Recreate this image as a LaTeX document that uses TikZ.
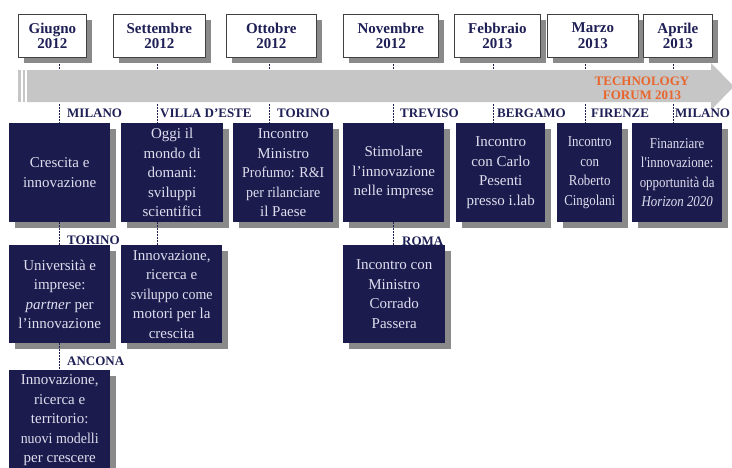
\documentclass[tikz,border=0pt]{standalone}
\usepackage{fontspec}
\setmainfont{Liberation Serif}
\newfontfamily\condfont[FakeStretch=0.86]{Liberation Serif}
\newfontfamily\semicond[FakeStretch=0.93]{Liberation Serif}
\usetikzlibrary{shadows}
\definecolor{navy}{HTML}{1C1B4E}
\definecolor{navytext}{HTML}{1E1F55}
\definecolor{boxtext}{HTML}{DEDEEE}
\definecolor{shadowgray}{HTML}{8A8A8A}
\definecolor{arrowgray}{HTML}{C6C6C6}
\definecolor{forumorange}{HTML}{E8662E}
\begin{document}
\begin{tikzpicture}[x=1pt,y=-1pt,
  myshadow/.style={drop shadow={shadow xshift=6pt, shadow yshift=-6pt, fill=shadowgray, opacity=1}},
  hdr/.style={draw=black!75, line width=0.7pt, fill=white, myshadow, anchor=north west,
    inner sep=0pt, align=center, text=navytext, minimum height=43pt,
    font=\bfseries\fontsize{15}{15.5}\selectfont},
  dbox/.style={fill=navy, myshadow, anchor=north west, inner sep=0pt, align=center,
    text=boxtext, font=\fontsize{15}{19.5}\selectfont},
  cbox/.style={dbox, font=\condfont\fontsize{15}{19.5}\selectfont},
  loc/.style={anchor=west, inner sep=0pt, text=navytext, font=\bfseries\fontsize{13}{13}\selectfont},
  dotline/.style={draw=navytext, line width=1pt, dash pattern=on 1.5pt off 1.5pt}]
\useasboundingbox (0,0) rectangle (732,467);
\fill[white] (0,0) rectangle (732,467);
% timeline arrow
\fill[arrowgray] (27,70) -- (711,70) -- (711,63) -- (734,86.5) -- (711,110) -- (711,102) -- (27,102) -- cycle;
\fill[arrowgray] (18,70) rectangle (20.5,102);
\fill[arrowgray] (22.5,70) rectangle (25,102);
\node[font=\bfseries\fontsize{13}{14}\selectfont, text=forumorange, align=center, inner sep=0pt] (tf) at (642,88) {TECHNOLOGY\\FORUM 2013};
% headers
\node[hdr, minimum width=68pt] (h1) at (18,14) {Giugno\\2012};
\node[hdr, minimum width=92pt] (h2) at (113,14) {Settembre\\2012};
\node[hdr, minimum width=90pt] (h3) at (226,14) {Ottobre\\2012};
\node[hdr, minimum width=95pt] (h4) at (343,14) {Novembre\\2012};
\node[hdr, minimum width=86pt] (h5) at (454,14) {Febbraio\\2013};
\node[hdr, minimum width=91pt] (h6) at (547,14) {Marzo\\2013};
\node[hdr, minimum width=69pt] (h7) at (643,14) {Aprile\\2013};
% ticks between headers and arrow
\foreach \i/\x in {1/59,2/157,3/269,4/393,5/493,6/585,7/673}{
  \coordinate (t\i) at (\x,64);
  \coordinate (a\i) at (\x,104);
  \draw[dotline] (t\i) -- ++(0,6);
}
% location labels row 1
\node[loc] (l1) at (67,113) {MILANO};
\node[loc] (l2) at (160,113) {VILLA D'ESTE};
\node[loc] (l3) at (277,113) {TORINO};
\node[loc] (l4) at (400,113) {TREVISO};
\node[loc] (l5) at (497,113) {BERGAMO};
\node[loc] (l6) at (591,113) {FIRENZE};
\node[loc] (l7) at (675,113) {MILANO};
% row 1 boxes
\node[dbox, minimum width=101pt, minimum height=99pt] (b1) at (9,123) {Crescita e\\innovazione};
\node[dbox, minimum width=102pt, minimum height=99pt] (b2) at (121,123) {Oggi il\\mondo di\\domani:\\sviluppi\\scientifici};
\node[dbox, minimum width=100pt, minimum height=99pt] (b3) at (233,123) {Incontro\\Ministro\\{\semicond Profumo: R\&I}\\{\semicond per rilanciare}\\il Paese};
\node[dbox, minimum width=101pt, minimum height=99pt] (b4) at (343,123) {Stimolare\\l'innovazione\\nelle imprese};
\node[dbox, minimum width=89pt, minimum height=99pt] (b5) at (456,123) {Incontro\\con Carlo\\Pesenti\\presso i.lab};
\node[cbox, minimum width=65pt, minimum height=99pt] (b6) at (557,123) {Incontro\\con\\Roberto\\Cingolani};
\node[cbox, minimum width=90pt, minimum height=99pt] (b7) at (632,123) {Finanziare\\l'innovazione:\\opportunità da\\\textit{Horizon 2020}};
% row 2
\node[loc] (l8) at (67,240) {TORINO};
\node[loc] (l10) at (402,241) {ROMA};
\node[dbox, minimum width=101pt, minimum height=98pt] (b8) at (9,245) {Università e\\imprese:\\\textit{partner} per\\l'innovazione};
\node[dbox, minimum width=101pt, minimum height=98pt] (b9) at (121,245) {Innovazione,\\ricerca e\\{\semicond sviluppo come}\\motori per la\\crescita};
\node[dbox, minimum width=102pt, minimum height=98pt] (b10) at (343,245) {Incontro con\\Ministro\\Corrado\\Passera};
% row 3
\node[loc] (l11) at (67,361) {ANCONA};
\node[dbox, minimum width=101pt, minimum height=100pt] (b11) at (9,370) {Innovazione,\\ricerca e\\territorio:\\{\semicond nuovi modelli}\\per crescere};
% connectors
\draw[dotline] (a1) -- (a1 |- b1.north);
\draw[dotline] (a2) -- (a2 |- b2.north);
\draw[dotline] (a3) -- (a3 |- b3.north);
\draw[dotline] (a4) -- (a4 |- b4.north);
\draw[dotline] (a5) -- (a5 |- b5.north);
\draw[dotline] (a6) -- (a6 |- b6.north);
\draw[dotline] (a7) -- (a7 |- b7.north);
\draw[dotline] (a1 |- b1.south) -- (a1 |- b8.north);
\draw[dotline] (a2 |- b2.south) -- (a2 |- b9.north);
\draw[dotline] (a4 |- b4.south) -- (a4 |- b10.north);
\draw[dotline] (a1 |- b8.south) -- (a1 |- b11.north);
\end{tikzpicture}
\end{document}
